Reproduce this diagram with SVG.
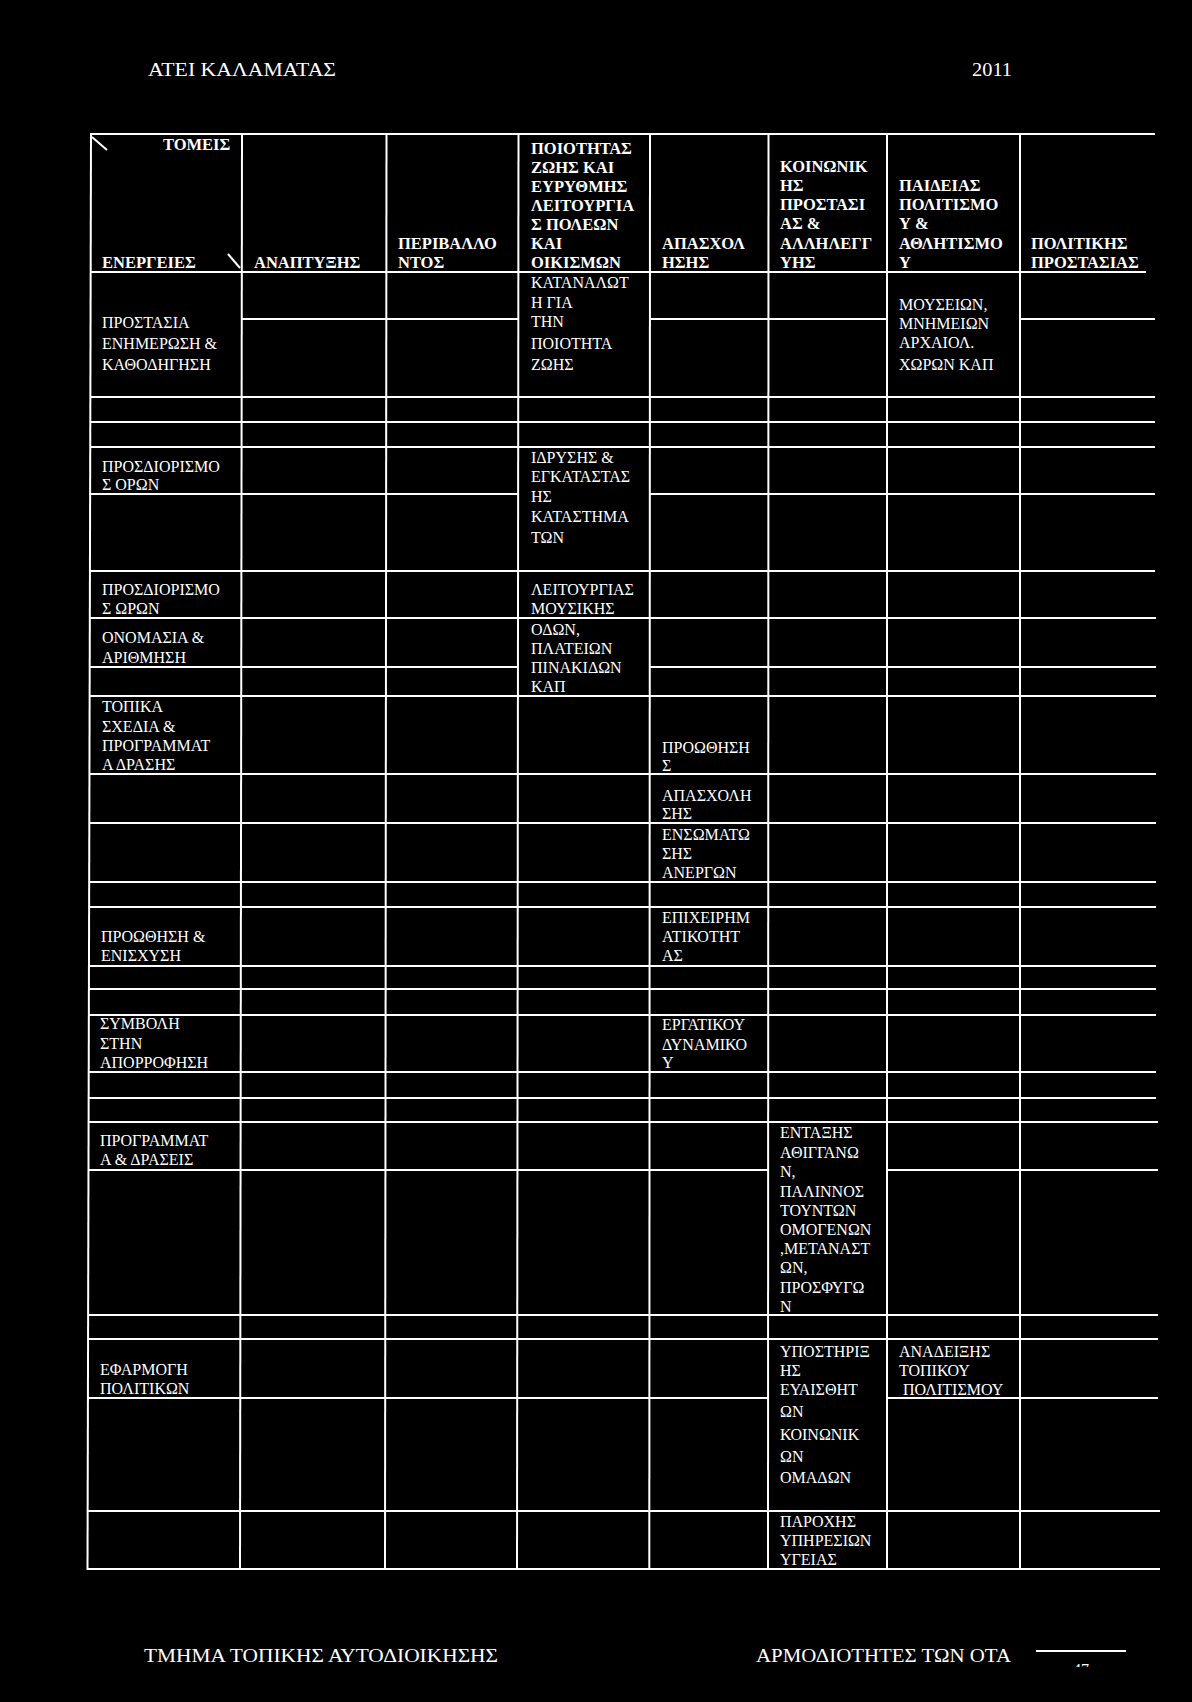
<svg xmlns="http://www.w3.org/2000/svg" width="1192" height="1702" viewBox="0 0 1192 1702">
<style>
.bg{fill:#000}
.ln{stroke:#fff;stroke-width:2;fill:none}
text{fill:#fff;font-family:"Liberation Serif","DejaVu Serif",serif;font-size:16px}
.h{font-weight:bold;font-size:16.5px}
.pg{font-size:19px}
</style>
<defs>
<clipPath id="pgclip"><rect x="1040" y="1600" width="100" height="67"/></clipPath>
</defs>
<rect class="bg" x="0" y="0" width="1192" height="1702"/>

<g id="page-header">
<text class="pg" x="148" y="76" textLength="188" lengthAdjust="spacingAndGlyphs">ΑΤΕΙ ΚΑΛΑΜΑΤΑΣ</text>
<text class="pg" x="972" y="76" textLength="40" lengthAdjust="spacingAndGlyphs">2011</text>
</g>

<g id="grid">
<!-- verticals -->
<line class="ln" x1="91" y1="133" x2="87.5" y2="1570"/>
<line class="ln" x1="242" y1="134" x2="240" y2="1569"/>
<line class="ln" x1="386.5" y1="134" x2="385" y2="1569"/>
<line class="ln" x1="518.5" y1="134" x2="517" y2="1569"/>
<line class="ln" x1="650" y1="134" x2="649.3" y2="1569"/>
<line class="ln" x1="768.5" y1="134" x2="768" y2="1569"/>
<line class="ln" x1="887" y1="134" x2="887" y2="1569"/>
<line class="ln" x1="1020" y1="134" x2="1020" y2="1569"/>
<!-- header diagonal fragments -->
<line class="ln" x1="92" y1="137" x2="107" y2="150"/>
<line class="ln" x1="228" y1="254" x2="240" y2="268"/>
<!-- horizontals -->
<line class="ln" x1="90" y1="134" x2="1155" y2="134"/>
<line class="ln" x1="90" y1="272" x2="1146" y2="272"/>
<line class="ln" x1="242" y1="319" x2="518" y2="319"/>
<line class="ln" x1="650" y1="319" x2="887" y2="319"/>
<line class="ln" x1="1020" y1="319" x2="1155" y2="319"/>
<line class="ln" x1="90" y1="397" x2="1155" y2="397"/>
<line class="ln" x1="90" y1="422" x2="1155" y2="422"/>
<line class="ln" x1="90" y1="447" x2="1155" y2="447"/>
<line class="ln" x1="89" y1="494" x2="518" y2="494"/>
<line class="ln" x1="650" y1="494" x2="1155" y2="494"/>
<line class="ln" x1="89" y1="571" x2="1155" y2="571"/>
<line class="ln" x1="89" y1="618" x2="1156" y2="618"/>
<line class="ln" x1="89" y1="667" x2="518" y2="667"/>
<line class="ln" x1="650" y1="667" x2="1156" y2="667"/>
<line class="ln" x1="89" y1="696" x2="1156" y2="696"/>
<line class="ln" x1="89" y1="774" x2="1156" y2="774"/>
<line class="ln" x1="89" y1="823" x2="1156" y2="823"/>
<line class="ln" x1="89" y1="882" x2="1156" y2="882"/>
<line class="ln" x1="89" y1="907" x2="1156" y2="907"/>
<line class="ln" x1="89" y1="966" x2="1156" y2="966"/>
<line class="ln" x1="89" y1="989" x2="1156" y2="989"/>
<line class="ln" x1="89" y1="1015" x2="1156" y2="1015"/>
<line class="ln" x1="89" y1="1072" x2="1156" y2="1072"/>
<line class="ln" x1="89" y1="1098" x2="1156" y2="1098"/>
<line class="ln" x1="88" y1="1122" x2="1158" y2="1122"/>
<line class="ln" x1="88" y1="1170" x2="768" y2="1170"/>
<line class="ln" x1="887" y1="1170" x2="1158" y2="1170"/>
<line class="ln" x1="88" y1="1315" x2="1158" y2="1315"/>
<line class="ln" x1="88" y1="1339" x2="1158" y2="1339"/>
<line class="ln" x1="88" y1="1398" x2="768" y2="1398"/>
<line class="ln" x1="887" y1="1398" x2="1158" y2="1398"/>
<line class="ln" x1="88" y1="1511" x2="1160" y2="1511"/>
<line class="ln" x1="87" y1="1569" x2="1160" y2="1569"/>
</g>

<g id="header-row">
<text class="h" x="163" y="150">ΤΟΜΕΙΣ</text>
<text class="h" x="102" y="268">ΕΝΕΡΓΕΙΕΣ</text>
<text class="h" x="254" y="268">ΑΝΑΠΤΥΞΗΣ</text>
<text class="h" x="398" y="249">ΠΕΡΙΒΑΛΛΟ</text>
<text class="h" x="398" y="268">ΝΤΟΣ</text>
<text class="h" x="531" y="154">ΠΟΙΟΤΗΤΑΣ</text>
<text class="h" x="531" y="173">ΖΩΗΣ ΚΑΙ</text>
<text class="h" x="531" y="192">ΕΥΡΥΘΜΗΣ</text>
<text class="h" x="531" y="211">ΛΕΙΤΟΥΡΓΙΑ</text>
<text class="h" x="531" y="230">Σ ΠΟΛΕΩΝ</text>
<text class="h" x="531" y="249">ΚΑΙ</text>
<text class="h" x="531" y="268">ΟΙΚΙΣΜΩΝ</text>
<text class="h" x="662" y="249">ΑΠΑΣΧΟΛ</text>
<text class="h" x="662" y="268">ΗΣΗΣ</text>
<text class="h" x="780" y="172">ΚΟΙΝΩΝΙΚ</text>
<text class="h" x="780" y="191">ΗΣ</text>
<text class="h" x="780" y="210">ΠΡΟΣΤΑΣΙ</text>
<text class="h" x="780" y="229">ΑΣ &amp;</text>
<text class="h" x="780" y="249">ΑΛΛΗΛΕΓΓ</text>
<text class="h" x="780" y="268">ΥΗΣ</text>
<text class="h" x="899" y="191">ΠΑΙΔΕΙΑΣ</text>
<text class="h" x="899" y="210">ΠΟΛΙΤΙΣΜΟ</text>
<text class="h" x="899" y="229">Υ &amp;</text>
<text class="h" x="899" y="249">ΑΘΛΗΤΙΣΜΟ</text>
<text class="h" x="899" y="268">Υ</text>
<text class="h" x="1031" y="249">ΠΟΛΙΤΙΚΗΣ</text>
<text class="h" x="1031" y="268">ΠΡΟΣΤΑΣΙΑΣ</text>
</g>

<g id="row-prostasia">
<text x="102" y="328">ΠΡΟΣΤΑΣΙΑ</text>
<text x="102" y="349">ΕΝΗΜΕΡΩΣΗ &amp;</text>
<text x="102" y="370">ΚΑΘΟΔΗΓΗΣΗ</text>
<text x="531" y="288">ΚΑΤΑΝΑΛΩΤ</text>
<text x="531" y="308">Η ΓΙΑ</text>
<text x="531" y="327">ΤΗΝ</text>
<text x="531" y="349">ΠΟΙΟΤΗΤΑ</text>
<text x="531" y="370">ΖΩΗΣ</text>
<text x="899" y="310">ΜΟΥΣΕΙΩΝ,</text>
<text x="899" y="329">ΜΝΗΜΕΙΩΝ</text>
<text x="899" y="348">ΑΡΧΑΙΟΛ.</text>
<text x="899" y="370">ΧΩΡΩΝ ΚΑΠ</text>
</g>

<g id="row-orwn">
<text x="102" y="472">ΠΡΟΣΔΙΟΡΙΣΜΟ</text>
<text x="102" y="490">Σ ΟΡΩΝ</text>
<text x="531" y="463">ΙΔΡΥΣΗΣ &amp;</text>
<text x="531" y="482">ΕΓΚΑΤΑΣΤΑΣ</text>
<text x="531" y="502">ΗΣ</text>
<text x="531" y="522">ΚΑΤΑΣΤΗΜΑ</text>
<text x="531" y="543">ΤΩΝ</text>
</g>

<g id="row-wrwn">
<text x="102" y="595">ΠΡΟΣΔΙΟΡΙΣΜΟ</text>
<text x="102" y="614">Σ ΩΡΩΝ</text>
<text x="531" y="595">ΛΕΙΤΟΥΡΓΙΑΣ</text>
<text x="531" y="614">ΜΟΥΣΙΚΗΣ</text>
</g>

<g id="row-onomasia">
<text x="102" y="643">ΟΝΟΜΑΣΙΑ &amp;</text>
<text x="102" y="663">ΑΡΙΘΜΗΣΗ</text>
<text x="531" y="635">ΟΔΩΝ,</text>
<text x="531" y="654">ΠΛΑΤΕΙΩΝ</text>
<text x="531" y="673">ΠΙΝΑΚΙΔΩΝ</text>
<text x="531" y="692">ΚΑΠ</text>
</g>

<g id="row-topika">
<text x="102" y="712">ΤΟΠΙΚΑ</text>
<text x="102" y="732">ΣΧΕΔΙΑ &amp;</text>
<text x="102" y="751">ΠΡΟΓΡΑΜΜΑΤ</text>
<text x="102" y="770">Α ΔΡΑΣΗΣ</text>
<text x="662" y="753">ΠΡΟΩΘΗΣΗ</text>
<text x="662" y="771">Σ</text>
<text x="662" y="801">ΑΠΑΣΧΟΛΗ</text>
<text x="662" y="819">ΣΗΣ</text>
<text x="662" y="840">ΕΝΣΩΜΑΤΩ</text>
<text x="662" y="859">ΣΗΣ</text>
<text x="662" y="878">ΑΝΕΡΓΩΝ</text>
</g>

<g id="row-proothisi">
<text x="101" y="942">ΠΡΟΩΘΗΣΗ &amp;</text>
<text x="101" y="961">ΕΝΙΣΧΥΣΗ</text>
<text x="662" y="923">ΕΠΙΧΕΙΡΗΜ</text>
<text x="662" y="942">ΑΤΙΚΟΤΗΤ</text>
<text x="662" y="961">ΑΣ</text>
</g>

<g id="row-symboli">
<text x="100" y="1029">ΣΥΜΒΟΛΗ</text>
<text x="100" y="1049">ΣΤΗΝ</text>
<text x="100" y="1068">ΑΠΟΡΡΟΦΗΣΗ</text>
<text x="662" y="1030">ΕΡΓΑΤΙΚΟΥ</text>
<text x="662" y="1050">ΔΥΝΑΜΙΚΟ</text>
<text x="662" y="1068">Υ</text>
</g>

<g id="row-programmata">
<text x="100" y="1146">ΠΡΟΓΡΑΜΜΑΤ</text>
<text x="100" y="1165">Α &amp; ΔΡΑΣΕΙΣ</text>
<text x="780" y="1138">ΕΝΤΑΞΗΣ</text>
<text x="780" y="1158">ΑΘΙΓΓΑΝΩ</text>
<text x="780" y="1177">Ν,</text>
<text x="780" y="1197">ΠΑΛΙΝΝΟΣ</text>
<text x="780" y="1216">ΤΟΥΝΤΩΝ</text>
<text x="780" y="1235">ΟΜΟΓΕΝΩΝ</text>
<text x="780" y="1254">,ΜΕΤΑΝΑΣΤ</text>
<text x="780" y="1273">ΩΝ,</text>
<text x="780" y="1293">ΠΡΟΣΦΥΓΩ</text>
<text x="780" y="1312">Ν</text>
</g>

<g id="row-efarmogi">
<text x="100" y="1375">ΕΦΑΡΜΟΓΗ</text>
<text x="100" y="1394">ΠΟΛΙΤΙΚΩΝ</text>
<text x="780" y="1357">ΥΠΟΣΤΗΡΙΞ</text>
<text x="780" y="1376">ΗΣ</text>
<text x="780" y="1395">ΕΥΑΙΣΘΗΤ</text>
<text x="780" y="1417">ΩΝ</text>
<text x="780" y="1440">ΚΟΙΝΩΝΙΚ</text>
<text x="780" y="1462">ΩΝ</text>
<text x="780" y="1483">ΟΜΑΔΩΝ</text>
<text x="899" y="1357">ΑΝΑΔΕΙΞΗΣ</text>
<text x="899" y="1376">ΤΟΠΙΚΟΥ</text>
<text x="903" y="1395">ΠΟΛΙΤΙΣΜΟΥ</text>
<text x="780" y="1527">ΠΑΡΟΧΗΣ</text>
<text x="780" y="1546">ΥΠΗΡΕΣΙΩΝ</text>
<text x="780" y="1565">ΥΓΕΙΑΣ</text>
</g>

<g id="page-footer">
<text class="pg" x="144" y="1662" textLength="354" lengthAdjust="spacingAndGlyphs">ΤΜΗΜΑ ΤΟΠΙΚΗΣ ΑΥΤΟΔΙΟΙΚΗΣΗΣ</text>
<text class="pg" x="756" y="1662" textLength="255" lengthAdjust="spacingAndGlyphs">ΑΡΜΟΔΙΟΤΗΤΕΣ ΤΩΝ ΟΤΑ</text>
<line class="ln" x1="1036" y1="1651" x2="1126" y2="1651"/>
<text x="1073" y="1675" clip-path="url(#pgclip)">47</text>
</g>
</svg>
